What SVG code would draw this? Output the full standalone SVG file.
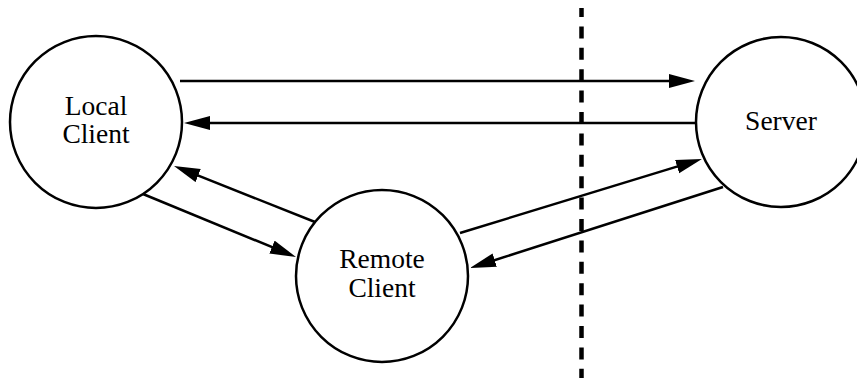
<svg xmlns="http://www.w3.org/2000/svg" width="857" height="379" viewBox="0 0 857 379">
<style>
.node{fill:#fff;stroke:#000;stroke-width:2.5}
.lbl{font-family:"Liberation Serif","Times New Roman",serif;font-size:27.5px;fill:#000;text-anchor:middle}
.edge{stroke:#000;stroke-width:2.5;fill:none;marker-end:url(#arr)}
.boundary{stroke:#000;stroke-width:4.5;stroke-dasharray:12 9.4;stroke-dashoffset:3;fill:none}
</style>
<defs>
<marker id="arr" markerUnits="userSpaceOnUse" markerWidth="28" markerHeight="16" refX="16" refY="7" orient="auto">
<path d="M0,0 L26,7 L0,14 z" fill="#000"/>
</marker>
</defs>
<rect width="857" height="379" fill="#fff"/>
<line class="boundary" x1="581.5" y1="8" x2="581.5" y2="378"/>
<g id="local-client">
<circle class="node" cx="96" cy="122" r="86"/>
<text class="lbl" x="96" y="115">Local</text>
<text class="lbl" x="96" y="143">Client</text>
</g>
<g id="server">
<circle class="node" cx="781" cy="122" r="85"/>
<text class="lbl" x="781" y="130">Server</text>
</g>
<g id="remote-client">
<circle class="node" cx="382" cy="276" r="86"/>
<text class="lbl" x="382" y="268">Remote</text>
<text class="lbl" x="382" y="297">Client</text>
</g>
<g id="connectors">
<line class="edge" x1="180" y1="81" x2="685" y2="81"/>
<line class="edge" x1="696" y1="123" x2="194" y2="123"/>
<line class="edge" x1="143" y1="194" x2="286.75" y2="253.19"/>
<line class="edge" x1="315" y1="222" x2="183.3" y2="169.7"/>
<line class="edge" x1="460" y1="233" x2="692.4" y2="161.9"/>
<line class="edge" x1="723" y1="187" x2="479.5" y2="265"/>
</g>
</svg>
